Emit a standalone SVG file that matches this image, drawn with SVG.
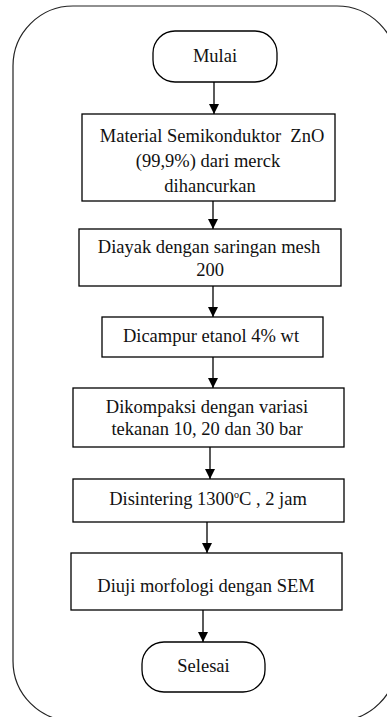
<svg xmlns="http://www.w3.org/2000/svg" width="387" height="717" viewBox="0 0 387 717">
<style>
.box{fill:#fff;stroke:#000;stroke-width:1.3}
.frame{fill:none;stroke:#222;stroke-width:1.2}
.t{font-family:"Liberation Serif","Times New Roman",serif;font-size:18.5px;fill:#111;text-anchor:middle}
.c{stroke:#000;stroke-width:1.3;fill:none}
</style>
<defs>
<marker id="ah" markerWidth="10" markerHeight="10" refX="10" refY="5" orient="auto" markerUnits="userSpaceOnUse">
<path d="M0,0 L10,5 L0,10 Z" fill="#000"/>
</marker>
</defs>
<rect class="frame" x="13" y="6" width="384" height="715" rx="60" ry="60"/>
<g id="connectors">
<line class="c" x1="214" y1="82" x2="214" y2="114" marker-end="url(#ah)"/>
<line class="c" x1="213" y1="201" x2="213" y2="229" marker-end="url(#ah)"/>
<line class="c" x1="213" y1="286" x2="213" y2="317" marker-end="url(#ah)"/>
<line class="c" x1="213" y1="357" x2="213" y2="388" marker-end="url(#ah)"/>
<line class="c" x1="210" y1="447" x2="210" y2="479" marker-end="url(#ah)"/>
<line class="c" x1="207" y1="522" x2="207" y2="553" marker-end="url(#ah)"/>
<line class="c" x1="203" y1="610" x2="203" y2="642" marker-end="url(#ah)"/>
</g>
<g id="mulai">
<rect class="box" x="153" y="31" width="124" height="51" rx="22" ry="22"/>
<text class="t" x="215" y="62">Mulai</text>
</g>
<g id="step1">
<rect class="box" x="82" y="114" width="253" height="87"/>
<text class="t" x="212" y="142" xml:space="preserve">Material Semikonduktor  ZnO</text>
<text class="t" x="208" y="167">(99,9%) dari merck</text>
<text class="t" x="210" y="192">dihancurkan</text>
</g>
<g id="step2">
<rect class="box" x="79" y="229" width="262" height="57"/>
<text class="t" x="209" y="253">Diayak dengan saringan mesh</text>
<text class="t" x="210" y="276">200</text>
</g>
<g id="step3">
<rect class="box" x="102" y="317" width="221" height="40"/>
<text class="t" x="211" y="342">Dicampur etanol 4% wt</text>
</g>
<g id="step4">
<rect class="box" x="73" y="388" width="271" height="59"/>
<text class="t" x="207" y="413">Dikompaksi dengan variasi</text>
<text class="t" x="207" y="435">tekanan 10, 20 dan 30 bar</text>
</g>
<g id="step5">
<rect class="box" x="73" y="479" width="271" height="43"/>
<text class="t" x="208" y="505">Disintering 1300<tspan font-size="10" dy="-7">o</tspan><tspan dy="7">C , 2 jam</tspan></text>
</g>
<g id="step6">
<rect class="box" x="71" y="553" width="271" height="57"/>
<text class="t" x="206" y="592">Diuji morfologi dengan SEM</text>
</g>
<g id="selesai">
<rect class="box" x="142" y="642" width="123" height="50" rx="22" ry="22"/>
<text class="t" x="203.5" y="672">Selesai</text>
</g>
</svg>
